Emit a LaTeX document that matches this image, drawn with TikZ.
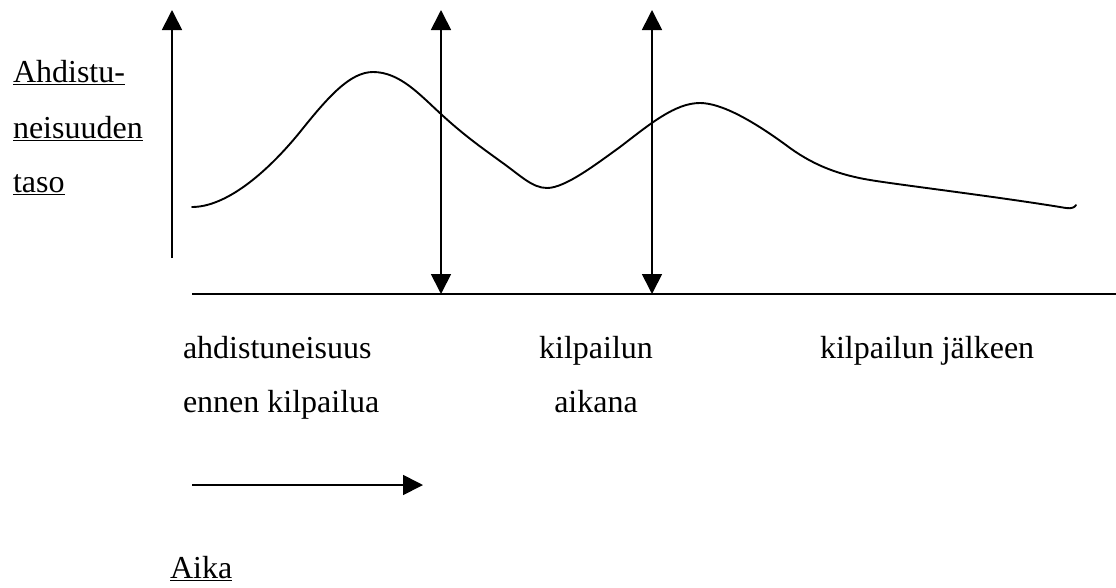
\documentclass[tikz,border=0pt]{standalone}
\usepackage{fontspec}
\setmainfont{Liberation Serif}
\usetikzlibrary{arrows.meta}
\tikzset{
  lbl/.style={anchor=base west, inner sep=0pt, outer sep=0pt, font=\fontsize{32}{38}\selectfont},
  lblc/.style={anchor=base, inner sep=0pt, outer sep=0pt, font=\fontsize{32}{38}\selectfont},
  axis/.style={line width=1.7pt},
  bigtip/.style={-{Triangle[length=20pt,width=20pt]}},
  dbltip/.style={{Triangle[length=20pt,width=20pt]}-{Triangle[length=20pt,width=20pt]}},
  curveline/.style={line width=1.9pt, line join=round, line cap=round}
}
\begin{document}
\begin{tikzpicture}[x=1pt,y=-1pt]
\useasboundingbox (0,0) rectangle (1116,587);
% coordinates
\coordinate (yaxB) at (172,258);
\coordinate (yaxT) at (172,10);
\coordinate (a1T) at (441,10);
\coordinate (a1B) at (441,294);
\coordinate (a2T) at (652,10);
\coordinate (a2B) at (652,294);
\coordinate (baseL) at (192,294);
\coordinate (baseR) at (1116,294);
\coordinate (timeL) at (192,485);
\coordinate (timeR) at (423,485);
% axes
\draw[axis,bigtip] (yaxB) -- (yaxT);
\draw[axis] (baseL) -- (baseR);
\draw[axis,dbltip] (a1B) -- (a1T);
\draw[axis,dbltip] (a2B) -- (a2T);
\draw[axis,bigtip] (timeL) -- (timeR);
% curve
\draw[curveline] (192,207)
  .. controls (225,207) and (265,175) .. (300,132)
  .. controls (328,97) and (350,72) .. (373,72)
  .. controls (400,72) and (420,95) .. (442,115)
  .. controls (466,137) and (485,150) .. (500,161)
  .. controls (520,175) and (532,188) .. (547,188)
  .. controls (565,188) and (595,165) .. (620,147)
  .. controls (650,124) and (675,103) .. (700,103)
  .. controls (722,103) and (755,122) .. (790,148)
  .. controls (815,166) and (840,175) .. (870,180)
  .. controls (900,185) and (1000,197) .. (1066,208)
  .. controls (1072,209) and (1075,207) .. (1076,205);
% labels
\node[lbl] (l1) at (13,82) {\underline{Ahdistu-}};
\node[lbl] (l2) at (13,138) {\underline{neisuuden}};
\node[lbl] (l3) at (13,192) {\underline{taso}};
\node[lbl] (b1) at (183,358) {ahdistuneisuus};
\node[lbl] (b2) at (183,412) {ennen kilpailua};
\node[lblc] (c1) at (596,358) {kilpailun};
\node[lblc] (c2) at (596,412) {aikana};
\node[lbl] (d1) at (820,358) {kilpailun jälkeen};
\node[lbl] (t1) at (170,578) {\underline{Aika}};
\end{tikzpicture}
\end{document}
